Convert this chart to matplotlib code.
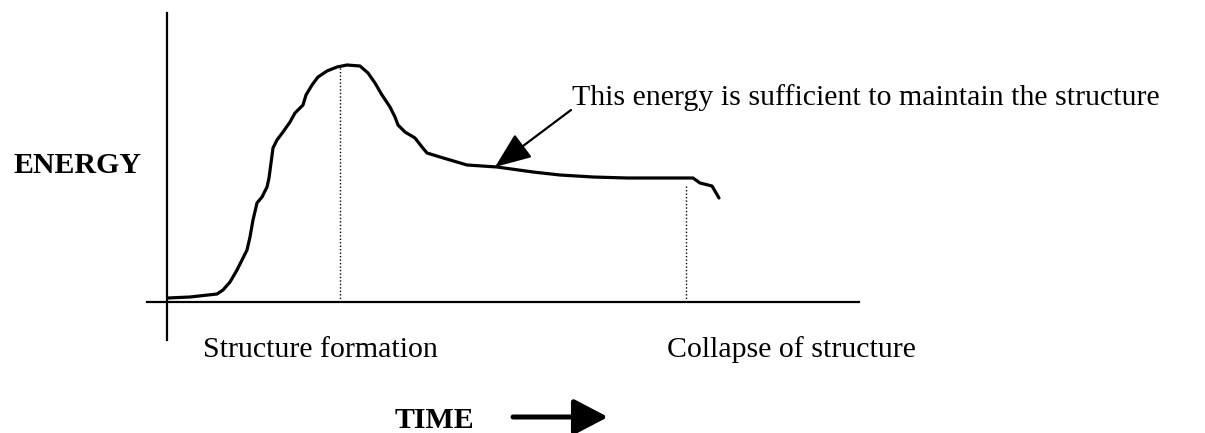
import matplotlib.pyplot as plt

# curve of energy against time (arbitrary units)
time = [1, 23, 50, 56, 63, 70, 75, 80, 83, 86, 90, 95, 100, 102, 104, 106,
        110, 116, 123, 128, 136, 139, 145, 151, 160, 170, 180, 193, 201, 208,
        215, 223, 228, 231, 238, 248, 255, 260, 273, 300, 330, 366, 393, 426,
        460, 526, 533, 545, 552]
energy = [4, 5, 8, 12, 20, 32, 42, 52, 65, 82, 99, 105, 115, 124, 139, 154,
          162, 170, 180, 189, 197, 207, 217, 225, 231, 235, 237, 236, 229, 219,
          207, 195, 185, 177, 170, 164, 155, 149, 145, 137, 135, 130, 127, 125,
          124, 124, 119, 116, 104]

peak_time, peak_energy = 173, 234
collapse_time, collapse_energy = 519, 117

note = 'This energy is sufficient to maintain the structure'
label_y = 'ENERGY'
label_x = 'TIME'
label_start = 'Structure formation'
label_end = 'Collapse of structure'

plt.rcParams['font.family'] = ['Liberation Serif', 'DejaVu Serif']

fig = plt.figure(figsize=(12.05, 4.33), dpi=100)
ax = fig.add_axes([0, 0, 1, 1])
# figure pixels -> data: t = x - 167, E = 302 - y
ax.set_xlim(-167, 1205 - 167)
ax.set_ylim(302 - 433, 302)
ax.axis('off')

# axes drawn by hand like the sketch
ax.plot([-20, 692], [0, 0], color='black', lw=1.6)
ax.plot([0, 0], [-38, 289], color='black', lw=1.6)

ax.plot(time, energy, color='black', lw=2.3, solid_joinstyle='round',
        solid_capstyle='round')

ax.plot([peak_time, peak_time], [0, peak_energy], color='black', lw=1, ls=(0, (1, 1.5)))
ax.plot([collapse_time, collapse_time], [0, collapse_energy], color='black', lw=1, ls=(0, (1, 1.5)))

ax.text(405, 197, note, fontsize=21.5, va='baseline', ha='left')
ax.annotate('', xy=(328, 135), xytext=(404, 192),
            arrowprops=dict(arrowstyle='-|>,head_length=0.75,head_width=0.3',
                            mutation_scale=30, color='black', lw=1.6,
                            shrinkA=0, shrinkB=0))

ax.text(-25, 129, label_y, fontsize=21.5, fontweight='bold', va='baseline', ha='right')
ax.text(36, -55, label_start, fontsize=21.5, va='baseline', ha='left')
ax.text(500, -55, label_end, fontsize=21.5, va='baseline', ha='left')
ax.text(228, -126, label_x, fontsize=21.5, fontweight='bold', va='baseline', ha='left')

ax.annotate('', xy=(441, -115), xytext=(346, -115),
            arrowprops=dict(arrowstyle='-|>,head_length=1.05,head_width=0.55',
                            mutation_scale=20, color='black', lw=3.6,
                            shrinkA=0, shrinkB=0))

fig.savefig('out.png', dpi=100)
